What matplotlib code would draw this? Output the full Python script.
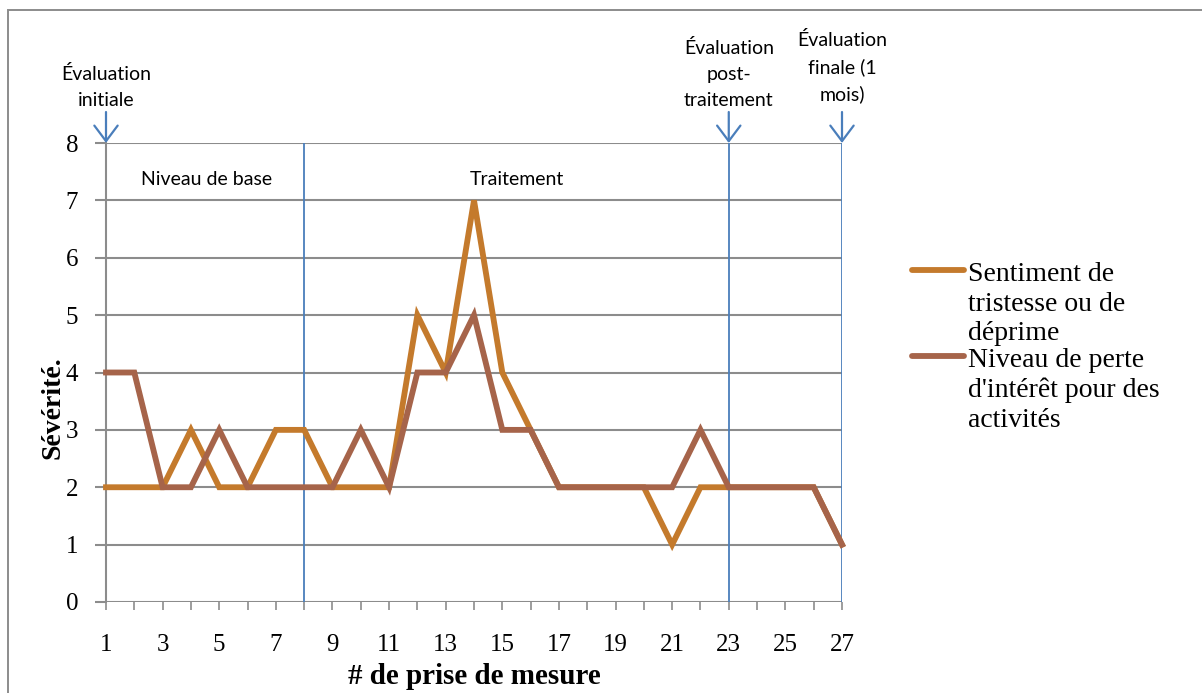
import matplotlib
matplotlib.use("Agg")
import matplotlib.pyplot as plt
from matplotlib.lines import Line2D
from matplotlib.patches import Rectangle

# Measurement index
mesures = list(range(1, 28))

# Severity ratings per measurement
tristesse = [2, 2, 2, 3, 2, 2, 3, 3, 2, 2, 2, 5, 4, 7, 4, 3, 2, 2, 2, 2, 1, 2, 2, 2, 2, 2, 1]
perte_interet = [4, 4, 2, 2, 3, 2, 2, 2, 2, 3, 2, 4, 4, 5, 3, 3, 2, 2, 2, 2, 2, 3, 2, 2, 2, 2, 1]

noms_series = ["Sentiment de\ntristesse ou de\ndéprime",
               "Niveau de perte\nd'intérêt pour des\nactivités"]

# Phase boundaries and evaluation points
limite_phase = 8
evaluations = [1, 23, 27]
textes_eval = ["Évaluation\ninitiale", "Évaluation\npost-\ntraitement", "Évaluation\nfinale (1\nmois)"]
hauteur_texte_eval = [8.6, 8.6, 8.69]
phases = [("Niveau de base", 4.57), ("Traitement", 15.52)]

ORANGE = "#C47A2C"
BRUN = "#A6644A"
BLEU = "#4A7EBB"
GRIS = "#8C8C8C"

SERIF = "Liberation Serif"
SANS = "Lato"

W, H = 1202, 693
fig = plt.figure(figsize=(W / 100, H / 100), dpi=100)

# Outer chart frame (extends past the right and bottom edges)
fig.add_artist(Rectangle((8 / W, -0.1), 1.2, (H - 10) / H + 0.1,
                         transform=fig.transFigure, fill=False,
                         edgecolor=GRIS, lw=1.4))

ax = fig.add_axes([106 / W, (H - 602) / H, 736 / W, 459 / H])
ax.set_xlim(1, 27)
ax.set_ylim(0, 8)

# Horizontal gridlines
for v in range(0, 9):
    ax.axhline(v, color=GRIS, lw=1.5, zorder=1)

# Phase / evaluation vertical lines
for xv in [limite_phase] + evaluations[1:]:
    ax.axvline(xv, ymin=0, ymax=1, color=BLEU, lw=1.3, zorder=2)

l1, = ax.plot(mesures, tristesse, color=ORANGE, lw=4.2, zorder=3,
              solid_joinstyle="miter", clip_on=False)
l2, = ax.plot(mesures, perte_interet, color=BRUN, lw=4.2, zorder=4,
              solid_joinstyle="miter", clip_on=False)

for s in ["top", "right", "bottom"]:
    ax.spines[s].set_visible(False)
ax.spines["left"].set_color(GRIS)
ax.spines["left"].set_linewidth(1.5)

ax.set_yticks(range(0, 9))
ax.set_xticks(mesures)
ax.set_xticklabels([str(m) if m % 2 == 1 else "" for m in mesures])
ax.tick_params(axis="y", direction="out", length=8, width=1.5, color=GRIS,
               pad=12, labelsize=18)
ax.tick_params(axis="x", direction="out", length=6, width=1.2, color=GRIS,
               pad=17, labelsize=18)
for lab in ax.get_xticklabels() + ax.get_yticklabels():
    lab.set_fontfamily(SERIF)

ax.set_xlabel("# de prise de mesure", fontfamily=SERIF, fontweight="bold",
              fontsize=21)
ax.xaxis.set_label_coords(0.5, -(676 - 602) / 459)
ax.xaxis.label.set_va("center")
ax.set_ylabel("Sévérité.", fontfamily=SERIF, fontweight="bold",
              fontsize=20)
ax.yaxis.set_label_coords(-(106 - 53) / 736, (602 - 408) / 459)
ax.yaxis.label.set_va("center")

# Phase labels
for txt, xp in phases:
    ax.text(xp, 7.37, txt, ha="center", va="center", fontfamily=SANS,
            fontsize=14)

# Evaluation arrows with captions
for xv, txt, yt in zip(evaluations, textes_eval, hauteur_texte_eval):
    ax.annotate("", xy=(xv, 8), xytext=(xv, 8.54),
                arrowprops=dict(arrowstyle="->, head_length=0.4, head_width=0.3",
                                color=BLEU, lw=1.6,
                                mutation_scale=28, shrinkA=0, shrinkB=0),
                annotation_clip=False)
    ax.annotate(txt, xy=(xv, yt), xycoords="data", ha="center", va="bottom",
                fontfamily=SANS, fontsize=14, linespacing=1.62,
                annotation_clip=False)

# Legend with handles aligned to the first line of each label
leg_y = [270, 356]
for line, nom, yp in zip([l1, l2], noms_series, leg_y):
    fig.add_artist(Line2D([912 / W, 964 / W], [1 - yp / H, 1 - yp / H],
                          transform=fig.transFigure, color=line.get_color(),
                          lw=4.2, solid_capstyle="round"))
    fig.text(968 / W, 1 - (yp - 8) / H, nom, ha="left", va="top",
             fontfamily=SERIF, fontsize=20, linespacing=1.25)

fig.savefig("out.png", dpi=100)
